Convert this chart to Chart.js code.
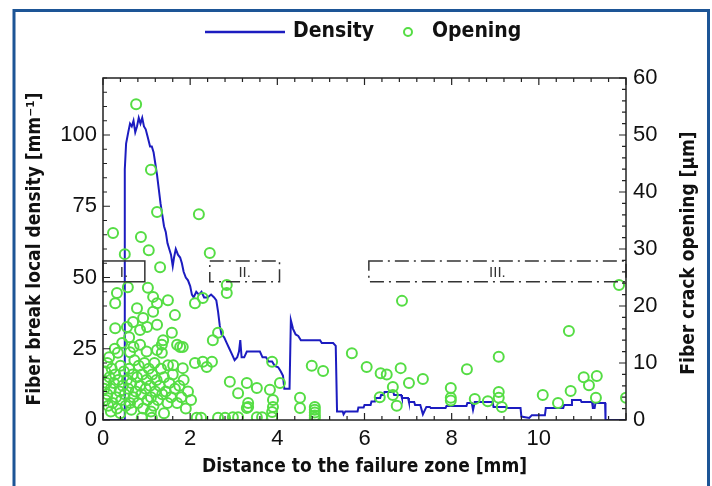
<!DOCTYPE html>
<html>
<head>
<meta charset="utf-8">
<script src="https://cdn.jsdelivr.net/npm/chart.js@4"></script>
<style>
  body { margin: 0; background: #fff; }
</style>
</head>
<body>
<canvas id="chart" width="712" height="486"></canvas>
<script>
// fiber break local density [mm^-1] vs distance [mm]
const densityPts = [
  [0, 0], [0.49, 0], [0.50, 88], [0.53, 97], [0.58, 101], [0.62, 104], [0.66, 103],
  [0.70, 105], [0.74, 101], [0.78, 103], [0.82, 106], [0.86, 104], [0.90, 106],
  [0.94, 103], [0.98, 102], [1.03, 99], [1.08, 96], [1.12, 96], [1.16, 94], [1.20, 90],
  [1.24, 86], [1.28, 81], [1.32, 76], [1.36, 72], [1.40, 68], [1.44, 66], [1.48, 62],
  [1.52, 60], [1.56, 58], [1.60, 54], [1.63, 57], [1.67, 60], [1.72, 58], [1.77, 57],
  [1.81, 55], [1.85, 52], [1.90, 50], [1.95, 49], [2.00, 47], [2.04, 44], [2.08, 43],
  [2.14, 45], [2.20, 44], [2.26, 45], [2.32, 43], [2.40, 43], [2.48, 44], [2.55, 43],
  [2.60, 42], [2.64, 38], [2.68, 33], [2.72, 30], [2.78, 29], [2.84, 27], [2.90, 25],
  [2.96, 23], [3.02, 21], [3.08, 22], [3.12, 24], [3.15, 28], [3.18, 22], [3.24, 22],
  [3.30, 24], [3.44, 24], [3.60, 24], [3.66, 22], [3.74, 22], [3.80, 20.5], [3.88, 20.5],
  [3.94, 19], [4.02, 18.5], [4.08, 17], [4.13, 15.5], [4.16, 11], [4.28, 11], [4.31, 35],
  [4.36, 32], [4.42, 30], [4.48, 29.5], [4.54, 28], [4.98, 28], [5.02, 27], [5.28, 27],
  [5.34, 26], [5.37, 3], [5.50, 3], [5.52, 2], [5.56, 3], [5.84, 3], [5.86, 4.4],
  [5.98, 4.4], [6.00, 5.3], [6.14, 5.3], [6.16, 6.5], [6.24, 6.5], [6.26, 7.7],
  [6.36, 7.7], [6.38, 8.8], [6.44, 8.8], [6.46, 9.8], [6.66, 9.8], [6.68, 8.8],
  [6.84, 8.8], [6.86, 7.7], [7.00, 7.7], [7.02, 6.3], [7.14, 6.3], [7.16, 5.3],
  [7.28, 5.3], [7.34, 2], [7.42, 4.6], [7.50, 4.6], [7.52, 4.2], [7.86, 4.2], [7.88, 4.9],
  [8.34, 4.9], [8.36, 6], [8.46, 6], [8.49, 3.5], [8.53, 6.3], [8.94, 6.3], [8.96, 4.6],
  [9.24, 4.6], [9.26, 4.2], [9.58, 4.2], [9.60, 1.2], [9.78, 0.7], [9.84, 1.7],
  [10.14, 1.7], [10.16, 4.2], [10.56, 4.2], [10.58, 5.3], [10.74, 5.3], [10.76, 7],
  [10.96, 7], [10.98, 6.3], [11.22, 6.3], [11.24, 4.2], [11.28, 4.2], [11.30, 6],
  [11.52, 6], [11.53, 0], [12, 0]
];

// fiber crack opening [um] vs distance [mm]
const openingPts = [
  [0.76, 55.4], [1.10, 43.9], [1.24, 36.5], [2.20, 36.1], [0.23, 32.8], [0.87, 32.1],
  [1.05, 29.8], [0.50, 29.1], [2.45, 29.3], [1.31, 26.8], [2.84, 23.7], [2.84, 22.3],
  [0.32, 22.3], [0.28, 20.5], [0.57, 23.3], [1.03, 23.2], [1.15, 21.6], [1.24, 20.5],
  [1.49, 21.0], [1.65, 18.4], [0.78, 19.6], [1.15, 19.0], [0.69, 17.2], [0.92, 17.9],
  [1.01, 16.3], [1.24, 16.7], [0.28, 16.1], [0.55, 16.3], [0.85, 15.8], [1.38, 14.0],
  [1.58, 15.3], [1.77, 12.8], [1.35, 13.2], [1.83, 12.8], [2.11, 20.5], [2.29, 21.4],
  [2.64, 15.3], [2.52, 14.0], [0.34, 11.8], [0.62, 11.9], [0.85, 13.2], [1.24, 12.3],
  [1.35, 11.8], [2.11, 10.0], [2.29, 10.2], [2.50, 10.2], [2.38, 9.3], [1.83, 9.1],
  [1.61, 9.6], [1.49, 9.6], [1.70, 13.2],
  [0.05, 8.5], [0.08, 6.5], [0.10, 4.5], [0.12, 2.5], [0.06, 3.5], [0.15, 7.5],
  [0.18, 5.5], [0.20, 9.0], [0.22, 3.0], [0.25, 6.5], [0.28, 8.0], [0.30, 4.0],
  [0.32, 2.0], [0.35, 7.0], [0.38, 5.0], [0.40, 9.5], [0.42, 3.5], [0.45, 6.0],
  [0.48, 8.5], [0.50, 4.5], [0.52, 2.5], [0.55, 7.0], [0.58, 5.5], [0.60, 9.0],
  [0.62, 3.0], [0.65, 6.5], [0.68, 8.0], [0.70, 4.0], [0.72, 10.5], [0.75, 5.0],
  [0.78, 7.5], [0.80, 3.0], [0.82, 9.5], [0.85, 6.0], [0.88, 4.5], [0.90, 8.0],
  [0.92, 2.0], [0.95, 10.0], [0.98, 5.5], [1.00, 7.0], [1.02, 3.5], [1.05, 9.0],
  [1.08, 6.0], [1.10, 4.0], [1.13, 8.0], [1.16, 2.5], [1.18, 10.0], [1.20, 5.0],
  [1.23, 7.0], [1.26, 3.5], [1.30, 6.0], [1.33, 9.0], [1.36, 4.5], [1.40, 7.5],
  [1.44, 5.0], [1.48, 3.0], [1.52, 6.5], [1.56, 4.0], [1.60, 8.0], [1.65, 5.5],
  [1.70, 3.0], [1.75, 6.0], [1.80, 4.0], [1.85, 7.0], [1.90, 2.0], [1.95, 5.0],
  [2.02, 3.5], [0.14, 11.0], [0.27, 12.5], [0.44, 13.5], [0.60, 14.5], [0.70, 12.8],
  [1.00, 12.0], [0.18, 1.5], [0.40, 1.2], [0.65, 1.8], [1.10, 1.5], [1.40, 1.2],
  [0.03, 5.5], [0.10, 10.0],
  [0.89, 0.4], [1.12, 0.4], [2.15, 0.4], [2.25, 0.4], [2.64, 0.4], [2.80, 0.4],
  [2.98, 0.5], [3.10, 0.5], [3.53, 0.5], [3.65, 0.5], [3.88, 0.5],
  [3.88, 10.2], [4.06, 6.5], [4.79, 9.5], [5.05, 8.6], [2.91, 6.7], [3.30, 6.5],
  [3.10, 4.7], [3.53, 5.6], [3.83, 5.3], [3.90, 3.5], [3.90, 2.3], [3.88, 1.4],
  [3.33, 3.0], [3.33, 2.3], [3.30, 2.1], [4.52, 3.9], [4.52, 2.1], [4.86, 2.3],
  [4.86, 1.8], [4.86, 1.3], [4.86, 0.8], [4.86, 0.4],
  [5.71, 11.7], [6.05, 9.3], [6.37, 8.2], [6.51, 8.0], [6.83, 9.1], [6.86, 20.9],
  [6.65, 5.8], [6.35, 4.0], [6.65, 4.4], [6.74, 2.5], [7.02, 6.5], [7.34, 7.2],
  [8.35, 8.9], [7.98, 5.6], [7.98, 3.9], [7.98, 3.4], [8.53, 3.7], [8.83, 3.3],
  [9.08, 11.1], [9.08, 4.9], [9.08, 3.9], [9.15, 2.3], [10.09, 4.4], [10.44, 3.0],
  [10.69, 15.6], [10.73, 5.1], [11.03, 7.5], [11.33, 7.7], [11.15, 6.1], [11.31, 3.9],
  [12.0, 3.9], [11.84, 23.7]
];

// zones marked on the plot (x range in mm, y range in density units)
const zoneNames = ["I.", "II.", "III."];
const zoneFrom = [0, 2.45, 6.1];
const zoneTo = [0.96, 4.05, 12];
const zoneLow = 48.5;
const zoneHigh = 55.8;

const lineColor = "#1c1cc0";
const dotColor = "#55dd44";
const titleFont = "'Liberation Sans Narrow', 'DejaVu Sans Condensed', sans-serif";
const tickFont = "'Liberation Sans', Arial, sans-serif";
const rightTitle = "Fiber crack opening [\u03BCm]";

const decor = {
  id: "decor",
  beforeDraw(chart) {
    const ctx = chart.ctx;
    ctx.save();
    ctx.fillStyle = "#fff";
    ctx.fillRect(0, 0, chart.width, chart.height);
    ctx.restore();
  },
  afterDatasetsDraw(chart) {
    const ctx = chart.ctx;
    const { left, right, top, bottom } = chart.chartArea;
    const x = chart.scales.x, y = chart.scales.y, y2 = chart.scales.y2;
    ctx.save();

    // zone boxes
    ctx.strokeStyle = "#333";
    ctx.lineWidth = 1.5;
    ctx.font = "15px " + tickFont;
    ctx.textAlign = "center";
    ctx.textBaseline = "middle";
    zoneNames.forEach((name, i) => {
      const x0 = x.getPixelForValue(zoneFrom[i]);
      const x1 = x.getPixelForValue(zoneTo[i]);
      const yTop = y.getPixelForValue(zoneHigh);
      const yBot = y.getPixelForValue(zoneLow);
      ctx.setLineDash(i === 0 ? [] : [14, 5, 2, 5]);
      ctx.strokeRect(x0, yTop, x1 - x0, yBot - yTop);
      if (i > 0) {
        ctx.fillStyle = "#fff";
        const tw = ctx.measureText(name).width + 8;
        ctx.fillRect((x0 + x1) / 2 - tw / 2, yTop + 2, tw, yBot - yTop - 4);
      }
      ctx.fillStyle = "#333";
      ctx.fillText(name, (x0 + x1) / 2, (yTop + yBot) / 2 + 1);
    });
    ctx.setLineDash([]);

    // plot border
    ctx.strokeStyle = "#222";
    ctx.lineWidth = 1.5;
    ctx.strokeRect(left, top, right - left, bottom - top);

    // inner ticks
    ctx.lineWidth = 1.2;
    ctx.beginPath();
    for (let v = 0; v <= 12.001; v += 0.4) {
      const px = x.getPixelForValue(v);
      const len = Math.abs(v / 2 - Math.round(v / 2)) < 0.01 ? 7 : 4;
      ctx.moveTo(px, bottom); ctx.lineTo(px, bottom - len);
      ctx.moveTo(px, top); ctx.lineTo(px, top + len);
    }
    for (let v = 0; v <= 120; v += 5) {
      const py = y.getPixelForValue(v);
      const len = v % 25 === 0 ? 7 : 4;
      ctx.moveTo(left, py); ctx.lineTo(left + len, py);
    }
    for (let v = 0; v <= 60; v += 2) {
      const py = y2.getPixelForValue(v);
      const len = v % 10 === 0 ? 7 : 4;
      ctx.moveTo(right, py); ctx.lineTo(right - len, py);
    }
    ctx.stroke();

    // right axis title, reading bottom to top
    ctx.save();
    ctx.translate(689, (top + bottom) / 2 + 4);
    ctx.rotate(-Math.PI / 2);
    ctx.font = "bold 19px " + titleFont;
    ctx.fillStyle = "#111";
    ctx.textAlign = "center";
    ctx.textBaseline = "middle";
    ctx.fillText(rightTitle, 0, 0);
    ctx.restore();

    // legend
    const cx = chart.width / 2;
    const ly = 32;
    ctx.font = "bold 21px " + titleFont;
    ctx.textAlign = "left";
    ctx.textBaseline = "middle";
    ctx.fillStyle = "#111";
    ctx.strokeStyle = lineColor;
    ctx.lineWidth = 2.5;
    ctx.beginPath();
    ctx.moveTo(cx - 151, ly); ctx.lineTo(cx - 71, ly);
    ctx.stroke();
    ctx.fillText("Density", cx - 63, ly);
    ctx.strokeStyle = dotColor;
    ctx.lineWidth = 2;
    ctx.beginPath();
    ctx.arc(cx + 52, ly, 4, 0, Math.PI * 2);
    ctx.stroke();
    ctx.fillText("Opening", cx + 76, ly);

    // outer frame
    ctx.strokeStyle = "#1d5596";
    ctx.lineWidth = 3;
    ctx.strokeRect(14, 10.5, 694.5, 490);
    ctx.restore();
  }
};

new Chart(document.getElementById("chart"), {
  type: "scatter",
  data: {
    datasets: [
      {
        label: "Opening",
        data: openingPts.map(p => ({ x: p[0], y: p[1] })),
        yAxisID: "y2",
        pointRadius: 5,
        pointBorderWidth: 2,
        pointBackgroundColor: "rgba(0,0,0,0)",
        pointBorderColor: dotColor,
        order: 0
      },
      {
        type: "line",
        label: "Density",
        data: densityPts.map(p => ({ x: p[0], y: p[1] })),
        yAxisID: "y",
        borderColor: lineColor,
        borderWidth: 2,
        pointRadius: 0,
        tension: 0,
        fill: false,
        order: 1
      }
    ]
  },
  options: {
    responsive: false,
    animation: false,
    layout: { padding: { top: 78, left: 0, right: 0, bottom: 0 } },
    plugins: { legend: { display: false }, tooltip: { enabled: false } },
    scales: {
      x: {
        type: "linear",
        min: 0, max: 12,
        ticks: {
          stepSize: 2,
          padding: 6,
          color: "#111",
          font: { size: 22, family: tickFont },
          callback: v => (v === 12 ? null : v)
        },
        grid: { display: false, drawTicks: false },
        border: { display: false },
        title: {
          display: true,
          text: "Distance to the failure zone [mm]",
          color: "#111",
          font: { size: 19, weight: "bold", family: titleFont },
          padding: { top: 0, bottom: 8 }
        },
        afterFit: s => { s.height = 66; }
      },
      y: {
        position: "left",
        min: 0, max: 120,
        ticks: {
          stepSize: 25,
          padding: 6,
          color: "#111",
          font: { size: 22, family: tickFont },
          callback: v => (v % 25 === 0 ? v : null)
        },
        grid: { display: false, drawTicks: false },
        border: { display: false },
        title: {
          display: true,
          text: "Fiber break local density [mm\u207B\u00B9]",
          color: "#111",
          font: { size: 19, weight: "bold", family: titleFont },
          padding: { top: 24, bottom: 0 }
        },
        afterFit: s => { s.width = 103; }
      },
      y2: {
        position: "right",
        min: 0, max: 60,
        ticks: {
          stepSize: 10,
          padding: 7,
          color: "#111",
          font: { size: 22, family: tickFont }
        },
        grid: { display: false, drawTicks: false },
        border: { display: false },
        title: { display: false },
        afterFit: s => { s.width = 86; }
      }
    }
  },
  plugins: [decor]
});
</script>
</body>
</html>
